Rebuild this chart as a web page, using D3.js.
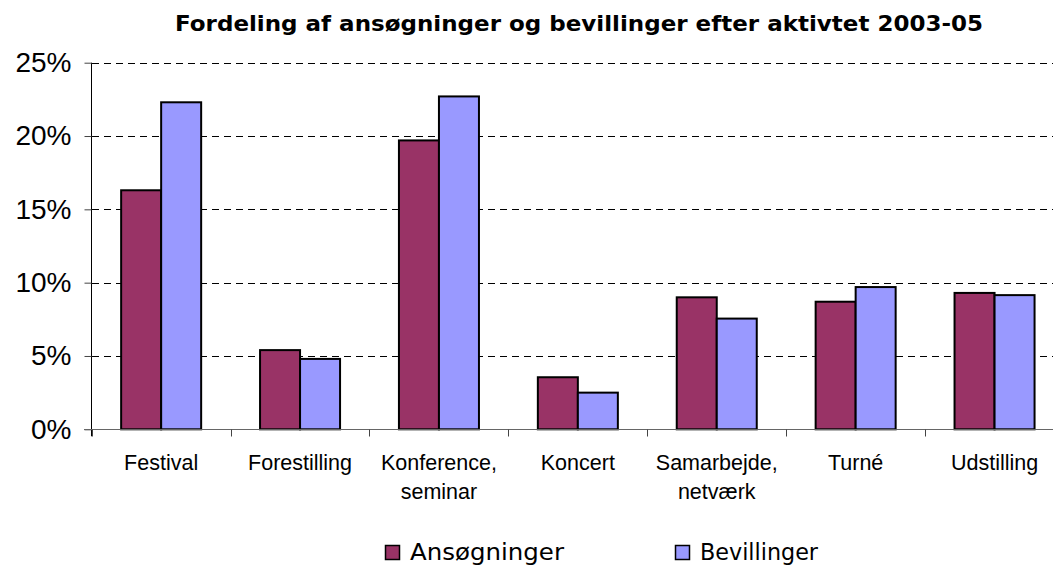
<!DOCTYPE html>
<html>
<head>
<meta charset="utf-8">
<script src="https://cdn.jsdelivr.net/npm/d3@7"></script>
<style>
  html, body { margin: 0; padding: 0; background: #fff; }
  svg { display: block; font-family: Arial, "Liberation Sans", sans-serif; }
</style>
</head>
<body>
<svg id="chart" width="1053" height="566"></svg>
<script>
const categories = [
  ["Festival"],
  ["Forestilling"],
  ["Konference,", "seminar"],
  ["Koncert"],
  ["Samarbejde,", "netværk"],
  ["Turné"],
  ["Udstilling"]
];
const seriesNames = ["Ansøgninger", "Bevillinger"];
const ansoegninger = [0.163, 0.054, 0.197, 0.0355, 0.090, 0.087, 0.093];
const bevillinger  = [0.223, 0.048, 0.227, 0.025, 0.0755, 0.097, 0.0915];
const yTicks = [0, 0.05, 0.10, 0.15, 0.20, 0.25];
const title = "Fordeling af ansøgninger og bevillinger efter aktivtet 2003-05";
const colors = ["#993366", "#9999FF"];

const svg = d3.select("#chart");
const catKeys = categories.map(c => c.join(" "));

const x0 = d3.scaleBand().domain(catKeys).range([91.7, 1064]).paddingInner(0).paddingOuter(0);
const x1 = d3.scaleBand().domain(seriesNames).range([0, x0.bandwidth()]).paddingInner(0).paddingOuter(0.736);
const y = d3.scaleLinear().domain([0, 0.25]).range([429.3, 62.7]);

// title
svg.append("text")
  .attr("x", 175).attr("y", 30.5)
  .attr("font-family", "'DejaVu Sans', Arial, sans-serif")
  .attr("font-size", 22).attr("font-weight", "bold")
  .attr("textLength", 808).attr("lengthAdjust", "spacingAndGlyphs")
  .text(title);

// gridlines
svg.append("g").selectAll("line").data(yTicks.filter(t => t > 0)).join("line")
  .attr("x1", 92).attr("x2", 1053)
  .attr("y1", d => Math.round(y(d)) + 0.5).attr("y2", d => Math.round(y(d)) + 0.5)
  .attr("stroke", "#000").attr("stroke-width", 1).attr("stroke-dasharray", "7,5");

// bars
const data = catKeys.map((k, i) => ({ k, vals: [ansoegninger[i], bevillinger[i]] }));
const groups = svg.append("g").selectAll("g").data(data).join("g")
  .attr("transform", d => `translate(${x0(d.k)},0)`);
groups.selectAll("rect").data(d => d.vals.map((v, j) => ({ s: seriesNames[j], v, j }))).join("rect")
  .attr("x", d => x1(d.s)).attr("width", x1.bandwidth())
  .attr("y", d => y(d.v)).attr("height", d => y(0) - y(d.v))
  .attr("fill", d => colors[d.j]).attr("stroke", "#000").attr("stroke-width", 2);

// y axis
const yAxis = d3.axisLeft(y).tickValues(yTicks).tickFormat(d3.format(".0%")).tickSize(7).tickPadding(13);
const gy = svg.append("g").attr("transform", "translate(91.5,0)").call(yAxis);
gy.select(".domain").attr("stroke", "#000").attr("d", `M0,${y(0.25)}V${y(0) + 7}`);
gy.selectAll(".tick line").attr("stroke", "#444");
gy.selectAll("text").attr("font-size", 28).attr("fill", "#000").attr("font-family", "Arial, 'Liberation Sans', sans-serif");

// x axis
const gx = svg.append("g").attr("transform", `translate(0,${Math.round(y(0)) + 0.5})`);
gx.append("line").attr("x1", 84).attr("x2", 1053).attr("stroke", "#666");
gx.selectAll("line.tk").data(catKeys).join("line").attr("class", "tk")
  .attr("x1", d => Math.round(x0(d)) + 0.5).attr("x2", d => Math.round(x0(d)) + 0.5)
  .attr("y1", 0).attr("y2", 7).attr("stroke", "#444");

// category labels
const lbl = svg.append("g").selectAll("text").data(categories).join("text")
  .attr("x", (d, i) => x0(catKeys[i]) + x0.bandwidth() / 2)
  .attr("y", 470)
  .attr("text-anchor", "middle").attr("font-size", 21.5).attr("fill", "#000");
lbl.selectAll("tspan").data(d => d).join("tspan")
  .attr("x", function () { return d3.select(this.parentNode).attr("x"); })
  .attr("dy", (d, i) => i === 0 ? 0 : 29)
  .text(d => d);

// legend
const legX = [385, 675];
const legTextLen = [154, 118];
const leg = svg.append("g").selectAll("g").data(seriesNames).join("g");
leg.append("rect")
  .attr("x", (d, i) => legX[i] + 0.5).attr("y", 545.5).attr("width", 14).attr("height", 14)
  .attr("fill", (d, i) => colors[i]).attr("stroke", "#000").attr("stroke-width", 1.5);
leg.append("text")
  .attr("x", (d, i) => legX[i] + 25).attr("y", 559.5)
  .attr("font-family", "'DejaVu Sans', Arial, sans-serif")
  .attr("font-size", 23.5).attr("fill", "#000")
  .attr("textLength", (d, i) => legTextLen[i]).attr("lengthAdjust", "spacingAndGlyphs")
  .text(d => d);
</script>
</body>
</html>
